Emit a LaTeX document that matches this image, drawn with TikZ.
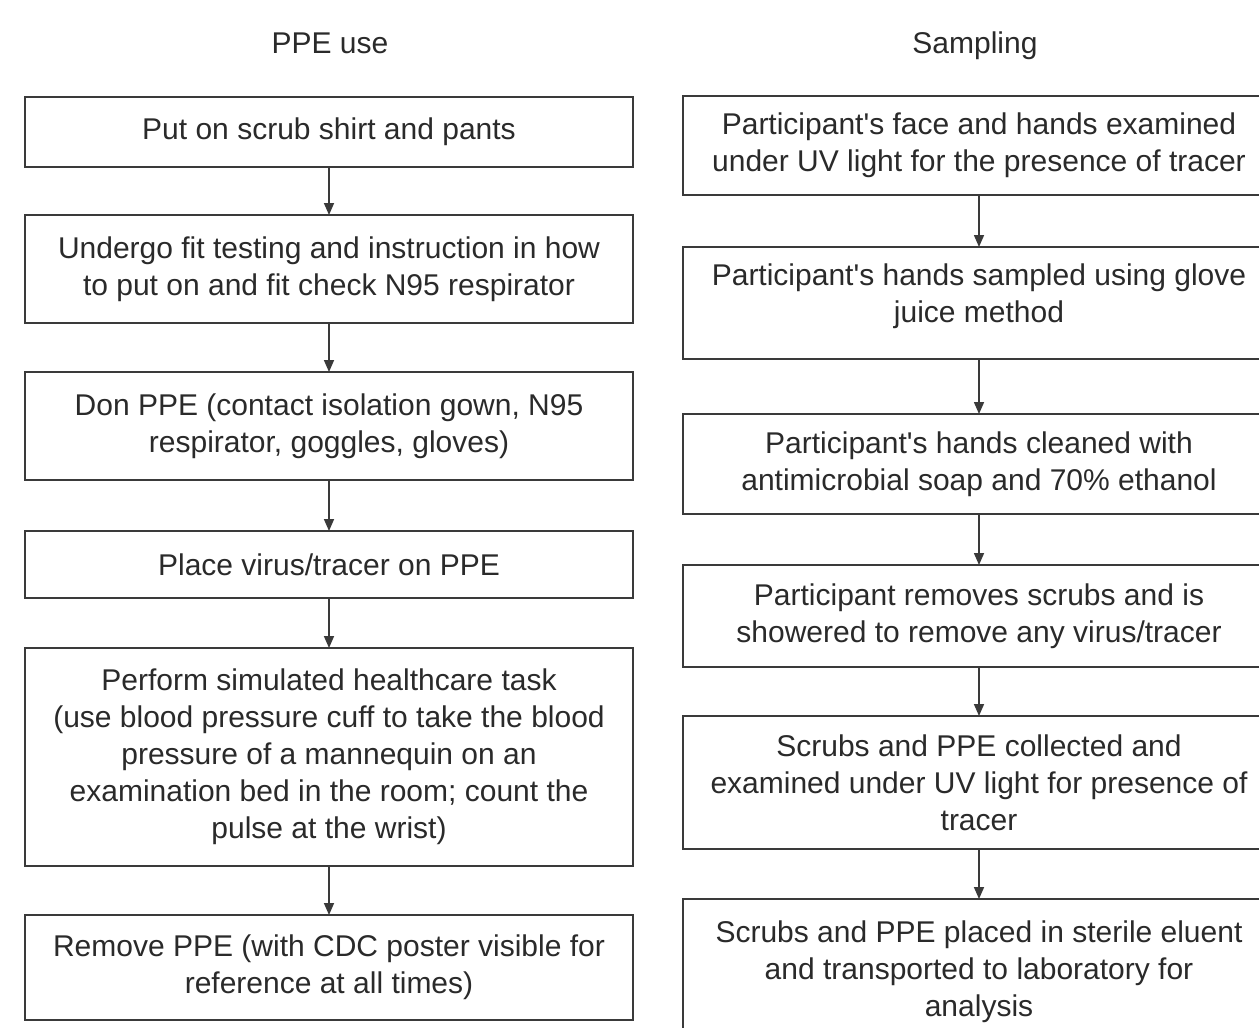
\documentclass[tikz,border=0pt]{standalone}
\usepackage{fontspec}
\setmainfont{Liberation Sans}
\usetikzlibrary{arrows.meta}
\definecolor{ink}{HTML}{2A2A2A}
\definecolor{edge}{HTML}{3A3A3A}
\tikzset{
  flowbox/.style={draw=edge, line width=2pt, rectangle, inner sep=0pt, outer sep=0pt,
    align=center, text=ink, font=\fontsize{30}{37}\selectfont},
  leftbox/.style={flowbox, minimum width=608pt},
  rightbox/.style={flowbox, minimum width=592pt},
  title/.style={text=ink, anchor=base, font=\fontsize{30}{37}\selectfont},
  flowarrow/.style={draw=edge, line width=1.6pt, -{Triangle[length=12pt,width=10pt]}}
}
\begin{document}
\begin{tikzpicture}[x=1pt,y=-1pt]
\clip (0,0) rectangle (1259,1028);
\fill[white] (0,0) rectangle (1259,1028);

\node[title] (tl) at (330,53) {PPE use};
\node[title] (tr) at (975,53) {Sampling};

\node[leftbox, minimum height=70pt] (l1) at (329,132) {Put on scrub shirt and pants};
\node[leftbox, minimum height=108pt] (l2) at (329,269) {Undergo fit testing and instruction in how\\to put on and fit check N95 respirator};
\node[leftbox, minimum height=108pt] (l3) at (329,426) {Don PPE (contact isolation gown, N95\\respirator, goggles, gloves)};
\node[leftbox, minimum height=67pt] (l4) at (329,564.5) {Place virus/tracer on PPE};
\node[leftbox, minimum height=218pt] (l5) at (329,757) {Perform simulated healthcare task\\(use blood pressure cuff to take the blood\\pressure of a mannequin on an\\examination bed in the room; count the\\pulse at the wrist)};
\node[leftbox, minimum height=105pt] (l6) at (329,967.5) {Remove PPE (with CDC poster visible for\\reference at all times)};

\node[rightbox, minimum height=99pt] (r1) at (979,145.5) {Participant\textquotesingle s face and hands examined\\under UV light for the presence of tracer};
\node[rightbox, minimum height=112pt] (r2) at (979,303) {Participant\textquotesingle s hands sampled using glove\\juice method\\[-18pt]\mbox{}};
\node[rightbox, minimum height=100pt] (r3) at (979,464) {Participant\textquotesingle s hands cleaned with\\antimicrobial soap and 70\% ethanol};
\node[rightbox, minimum height=102pt] (r4) at (979,616) {Participant removes scrubs and is\\showered to remove any virus/tracer};
\node[rightbox, minimum height=133pt] (r5) at (979,782.5) {Scrubs and PPE collected and\\examined under UV light for presence of\\tracer};
\node[rightbox, minimum height=146pt] (r6) at (979,972) {Scrubs and PPE placed in sterile eluent\\and transported to laboratory for\\analysis};

\foreach \a/\b in {l1/l2,l2/l3,l3/l4,l4/l5,l5/l6,r1/r2,r2/r3,r3/r4,r4/r5,r5/r6}
  \draw[flowarrow] (\a.south) -- (\b.north);
\end{tikzpicture}
\end{document}
